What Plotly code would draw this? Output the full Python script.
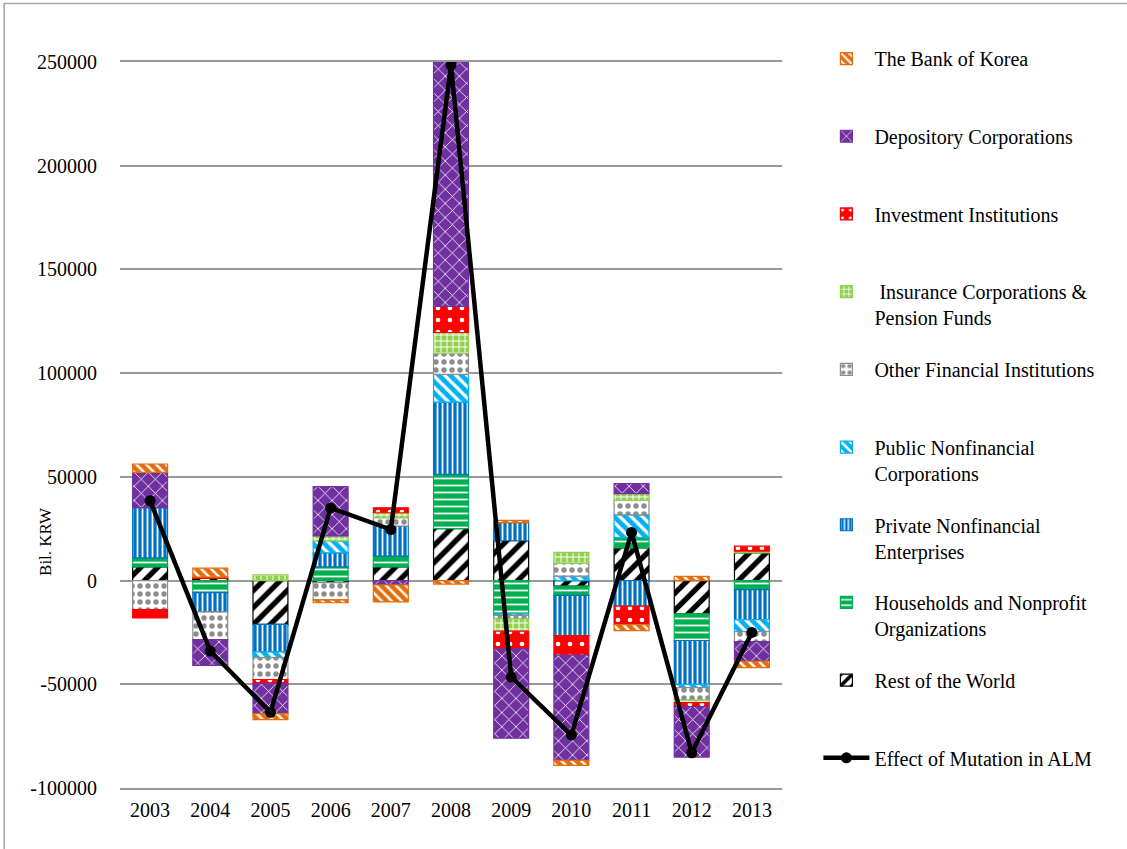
import plotly.graph_objects as go

# Flow-of-funds contributions by sector (Bil. KRW)
years = ["2003", "2004", "2005", "2006", "2007", "2008", "2009", "2010", "2011", "2012", "2013"]

bank_of_korea = [4000, 4300, -2900, -1400, -8200, -1700, 1100, -2400, -2900, 2000, -3100]
depository_corps = [17000, -12400, -14400, 23800, -2100, 117800, -43100, -50800, 4900, -24400, -9500]
investment_inst = [-4000, 700, -2000, None, 2400, 12600, -8500, -9400, -8900, -1900, 2400]
insurance_pension = [None, None, 2700, 2400, 2400, 10000, -6000, 5200, 3300, -1200, 800]
other_financial = [-14000, -13400, -10600, -8300, 4000, 10200, -1600, 6300, 6900, -6000, -4800]
public_nonfinancial = [None, None, -2700, 5700, None, 13400, -800, 2100, 11000, -1600, -5800]
private_nonfinancial = [24300, -9300, -13300, 6800, 14500, 34800, 8700, -19400, -12300, -21100, -14400]
households_npo = [4300, -5800, None, 6600, 5200, 26200, -16000, -4400, 4900, -12900, -4400]
rest_of_world = [6600, 1000, -21100, -1000, 6600, 25000, 19200, -2700, 15800, -16000, 13400]

alm_effect = [38500, -34000, -63500, 35000, 24600, 248500, -46500, -74500, 23200, -83000, -25000]

y_tick_values = [-100000, -50000, 0, 50000, 100000, 150000, 200000, 250000]
y_tick_labels = ["-100000", "-50000", "0", "50000", "100000", "150000", "200000", "250000"]

FONT = "Liberation Serif"
GRID = "#999999"

# (name, values, fill colour, pattern shape, pattern fg, pattern bg, size, solidity, legend rank)
# listed from the bottom of each stack outward
series = [
    ("Rest of the World<br> ", rest_of_world, "#000000", "/", "#000000", "#FFFFFF", 12, 0.45, 9),
    ("Households and Nonprofit<br>Organizations", households_npo, "#00B050", "-", "#FFFFFF", "#00B050", 7, 0.25, 8),
    ("Private Nonfinancial<br>Enterprises", private_nonfinancial, "#0070C0", "|", "#FFFFFF", "#0070C0", 5, 0.35, 7),
    ("Public Nonfinancial<br>Corporations", public_nonfinancial, "#00B0F0", "\\", "#FFFFFF", "#00B0F0", 8, 0.4, 6),
    ("Other Financial Institutions<br> ", other_financial, "#8C8C8C", ".", "#8C8C8C", "#FFFFFF", 8, 0.35, 5),
    (" Insurance Corporations &<br>Pension Funds", insurance_pension, "#92D050", "+", "#FFFFFF", "#92D050", 6, 0.3, 4),
    ("Investment Institutions<br> ", investment_inst, "#FF0000", ".", "#FFFFFF", "#FF0000", 12, 0.12, 3),
    ("Depository Corporations<br> ", depository_corps, "#7030A0", "x", "#FFFFFF", "#7030A0", 10, 0.15, 2),
    ("The Bank of Korea<br> ", bank_of_korea, "#E46C0A", "\\", "#FFFFFF", "#E46C0A", 7, 0.35, 1),
]

fig = go.Figure()

for name, vals, color, shape, fg, bg, size, solidity, rank in series:
    fig.add_trace(go.Bar(
        x=years,
        y=vals,
        name=name,
        legendgroup=name,
        legendrank=rank,
        marker=dict(
            color=bg,
            line=dict(color=color, width=1.2),
            pattern=dict(shape=shape, fgcolor=fg, bgcolor=bg, size=size,
                         solidity=solidity, fillmode="replace"),
        ),
    ))

fig.add_trace(go.Scatter(
    x=years,
    y=alm_effect,
    name="Effect of Mutation in ALM<br> ",
    legendgroup="alm",
    legendrank=10,
    mode="lines+markers",
    line=dict(color="#000000", width=4.5),
    marker=dict(color="#000000", size=11),
))

fig.update_layout(
    width=1127,
    height=849,
    barmode="relative",
    bargap=0.42,
    paper_bgcolor="#FFFFFF",
    plot_bgcolor="#FFFFFF",
    margin=dict(l=120, r=345, t=62, b=61),
    font=dict(family=FONT, size=20, color="#000000"),
    legend=dict(
        x=1.055, xanchor="left",
        y=1.0316, yanchor="top",
        valign="top",
        tracegroupgap=22.7,
        itemwidth=46,
        maxheight=900,
        font=dict(family=FONT, size=20, color="#000000"),
        bgcolor="rgba(0,0,0,0)",
    ),
    xaxis=dict(
        range=[-0.5, 10.5],
        showgrid=False,
        showline=True,
        mirror=True,
        linecolor=GRID,
        linewidth=1.5,
        ticks="",
        ticklabelstandoff=3,
        tickfont=dict(family=FONT, size=20),
    ),
    yaxis=dict(
        range=[-100000, 250000],
        tickvals=y_tick_values,
        ticktext=y_tick_labels,
        showgrid=True,
        gridcolor=GRID,
        gridwidth=1.5,
        zeroline=True,
        zerolinecolor=GRID,
        zerolinewidth=1.5,
        showline=False,
        ticks="",
        ticklabelstandoff=22,
        tickfont=dict(family=FONT, size=20),
    ),
    annotations=[dict(
        text="Bil. KRW",
        xref="paper", yref="paper",
        x=-0.131, y=0.34,
        showarrow=False,
        textangle=-90,
        font=dict(family=FONT, size=17, color="#000000"),
    )],
    shapes=[dict(
        type="rect", xref="paper", yref="paper",
        x0=-0.175, x1=2.0, y0=-1.0, y1=1.0806,
        line=dict(color="#A6A6A6", width=1.5),
        fillcolor="rgba(0,0,0,0)",
        layer="below",
    )],
)

fig.write_html("out.html")
